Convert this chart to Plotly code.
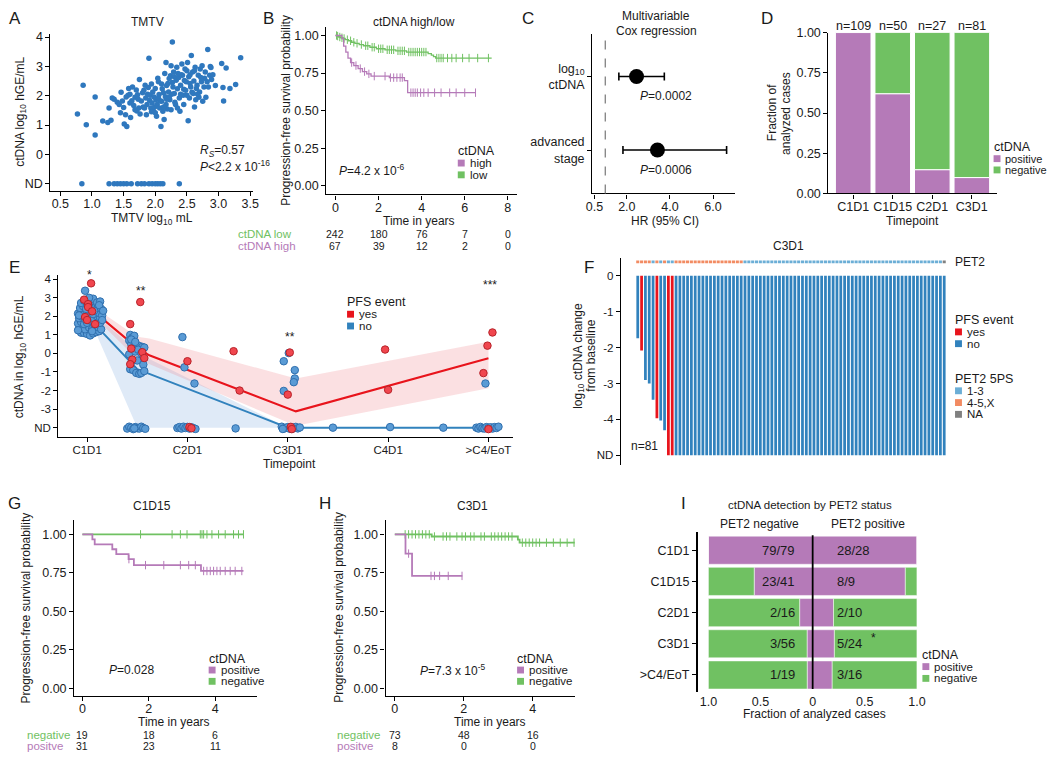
"""Multi-panel ctDNA figure rebuilt with Plotly."""

import plotly.graph_objects as go

W, H = 1050, 759
FONT = "Liberation Sans, Arial, Helvetica, sans-serif"
INK = "#1a1a1a"
PURPLE = "#B57AB8"
GREEN = "#70C162"
PFS_RED = "#E8141C"
PFS_BLUE = "#3182BD"
PT_BLUE = "#2F78BE"
PET_LOW = "#6BAED6"
PET_HIGH = "#F28B62"
PET_NA = "#808080"

# ---------------- A: TMTV vs baseline ctDNA ----------------
tmtv_pts = [
    (0.77, 1.38), (0.86, 2.36), (0.91, 1.01), (1.05, 0.66), (1.05, 1.96), (1.17, 1.14), (1.25, 1.09),
    (1.27, 1.58), (1.30, 1.16), (1.32, 1.92), (1.35, 1.88), (1.40, 1.78), (1.43, 1.70), (1.45, 1.42),
    (1.46, 2.12), (1.48, 1.82), (1.50, 1.60), (1.51, 1.04), (1.53, 1.35), (1.54, 1.96), (1.55, 0.95),
    (1.57, 2.02), (1.58, 2.25), (1.60, 1.75), (1.61, 1.26), (1.63, 1.83), (1.64, 2.30), (1.66, 1.67),
    (1.68, 1.95), (1.70, 2.20), (1.71, 1.48), (1.72, 2.03), (1.74, 1.58), (1.75, 2.55), (1.76, 1.38),
    (1.78, 1.82), (1.80, 2.10), (1.81, 1.62), (1.82, 2.19), (1.84, 2.36), (1.85, 1.92), (1.86, 1.35),
    (1.87, 1.70), (1.88, 2.05), (1.90, 3.28), (1.91, 1.85), (1.92, 2.02), (1.93, 1.58), (1.94, 1.45),
    (1.95, 1.75), (1.96, 2.13), (1.97, 1.48), (1.98, 1.96), (1.99, 1.62), (2.00, 2.25), (2.01, 1.86),
    (2.02, 1.30), (2.03, 1.70), (2.04, 2.60), (2.05, 2.48), (2.06, 2.04), (2.07, 1.58), (2.08, 1.82),
    (2.09, 0.95), (2.10, 1.81), (2.11, 2.24), (2.12, 1.47), (2.13, 2.10), (2.14, 1.19), (2.15, 2.76),
    (2.16, 1.97), (2.17, 3.13), (2.17, 1.70), (2.18, 2.35), (2.19, 1.55), (2.20, 2.42), (2.21, 2.13),
    (2.22, 2.59), (2.23, 1.86), (2.24, 2.68), (2.25, 3.02), (2.25, 1.52), (2.26, 2.05), (2.27, 3.83),
    (2.28, 2.30), (2.29, 2.81), (2.30, 2.08), (2.31, 1.78), (2.32, 1.70), (2.33, 2.53), (2.34, 2.97),
    (2.35, 2.24), (2.36, 2.76), (2.37, 2.62), (2.38, 1.92), (2.39, 1.47), (2.40, 2.36), (2.41, 2.72),
    (2.42, 3.08), (2.43, 2.70), (2.44, 2.02), (2.45, 1.70), (2.46, 2.52), (2.47, 2.91), (2.48, 2.19),
    (2.49, 2.48), (2.50, 2.85), (2.51, 3.13), (2.52, 1.15), (2.53, 2.65), (2.54, 1.92), (2.55, 2.42),
    (2.56, 2.30), (2.57, 3.37), (2.58, 2.12), (2.59, 2.81), (2.60, 2.08), (2.61, 2.50), (2.62, 1.62),
    (2.63, 2.97), (2.64, 1.86), (2.65, 2.25), (2.66, 2.36), (2.68, 2.70), (2.69, 1.95), (2.70, 2.13),
    (2.71, 2.91), (2.73, 2.48), (2.74, 3.02), (2.75, 1.81), (2.77, 2.30), (2.78, 2.60), (2.79, 2.81),
    (2.80, 1.95), (2.82, 2.48), (2.83, 3.58), (2.84, 2.30), (2.86, 2.70), (2.87, 3.00), (2.88, 2.96),
    (2.89, 2.55), (2.91, 2.72), (2.95, 2.35), (3.05, 3.10), (3.07, 2.28), (3.08, 1.82), (3.12, 2.95),
    (3.18, 2.25), (3.27, 2.38), (3.35, 3.30), (1.60, 2.05), (1.68, 1.52), (1.73, 1.88), (1.83, 1.58),
    (1.89, 2.28), (1.94, 2.40), (2.00, 1.42), (2.05, 1.92), (2.10, 2.40), (2.13, 1.62), (2.18, 1.88),
    (2.22, 1.95), (2.27, 2.45), (2.30, 2.65), (2.35, 1.58), (2.40, 2.05), (2.45, 2.22), (2.50, 2.02),
    (2.55, 2.72), (2.62, 2.85), (2.67, 2.05), (2.72, 2.62),
]
tmtv_nd_x = [0.84, 1.27, 1.35, 1.40, 1.45, 1.50, 1.55, 1.62, 1.72, 1.78, 1.83, 1.90, 1.95, 2.00,
             2.04, 2.08, 2.12, 2.38]
ND_A = -1

# ---------------- B: KM ctDNA high / low ----------------
low_t = [0, 0.08, 0.15, 0.25, 0.35, 0.45, 0.6, 0.75, 0.9, 1.1, 1.3, 1.6, 1.9, 2.3, 2.8, 3.3, 4.3, 4.45, 4.55, 4.65]
low_s = [1.0, 0.996, 0.99, 0.985, 0.98, 0.972, 0.965, 0.955, 0.948, 0.94, 0.932, 0.922, 0.912, 0.905,
         0.898, 0.89, 0.88, 0.87, 0.86, 0.85]
low_end = 7.25
low_cens = [0.05, 0.1, 0.2, 0.3, 0.4, 0.55, 0.7, 0.85, 1.0, 1.2, 1.4, 1.5, 1.7, 1.8, 2.0, 2.1, 2.2, 2.4, 2.5,
            2.6, 2.7, 2.9, 3.0, 3.1, 3.2, 3.4, 3.5, 3.6, 3.7, 3.8, 3.9, 4.0, 4.1, 4.2, 4.7, 4.8, 4.9, 5.0,
            5.2, 5.4, 5.6, 5.9, 6.2, 6.6, 7.1]
high_t = [0, 0.3, 0.38, 0.48, 0.58, 0.7, 0.85, 1.05, 1.25, 1.45, 1.65, 2.5, 3.2, 3.35]
high_s = [1.0, 0.98, 0.93, 0.89, 0.85, 0.82, 0.80, 0.78, 0.76, 0.745, 0.73, 0.72, 0.70, 0.62]
high_end = 6.5
high_cens = [0.75, 0.95, 1.15, 1.35, 1.55, 1.8, 2.3, 2.55, 2.7, 2.85, 3.0, 3.1, 3.5, 3.6, 3.7, 3.8, 3.95,
             4.1, 4.3, 4.6, 4.9, 5.3, 5.6, 6.0, 6.5]
risk_times_b = [0, 2, 4, 6, 8]
risk_low_b = [242, 180, 76, 7, 0]
risk_high_b = [67, 39, 12, 2, 0]

# ---------------- C: Cox regression ----------------
cox_vars = ["log<sub>10</sub><br>ctDNA", "advanced<br>stage"]
cox_pos = [2, 1]
cox_hr = [2.45, 3.42]
cox_lo = [1.63, 1.82]
cox_hi = [3.74, 6.63]
cox_p = ["<i>P</i>=0.0002", "<i>P</i>=0.0006"]

# ---------------- D: detection per timepoint ----------------
d_timepoints = ["C1D1", "C1D15", "C2D1", "C3D1"]
d_n = [109, 50, 27, 81]
d_positive = [1.0, 0.62, 0.148, 0.099]

# ---------------- E: ctDNA kinetics ----------------
e_blue = [
    (-0.06, 1.12), (-0.03, 1.10), (0.00, 1.05), (0.03, 0.97), (0.06, 1.08), (0.09, 1.15), (0.12, 1.20),
    (-0.08, 1.35), (-0.05, 1.45), (-0.02, 1.30), (0.02, 1.40), (0.05, 1.32), (0.08, 1.50), (0.11, 1.42),
    (0.14, 1.30), (-0.09, 1.62), (-0.06, 1.70), (-0.03, 1.58), (0.00, 1.65), (0.04, 1.75), (0.07, 1.60),
    (0.10, 1.72), (0.13, 1.65), (-0.08, 1.90), (-0.05, 1.98), (-0.02, 1.85), (0.01, 1.95), (0.04, 2.05),
    (0.07, 1.88), (0.10, 2.00), (0.13, 1.92), (-0.09, 2.15), (-0.06, 2.25), (-0.03, 2.10), (0.00, 2.20),
    (0.03, 2.30), (0.06, 2.12), (0.09, 2.28), (0.12, 2.18), (-0.07, 2.45), (-0.04, 2.55), (-0.01, 2.40),
    (0.02, 2.50), (0.05, 2.62), (0.08, 2.45), (0.11, 2.55), (0.14, 2.40), (-0.06, 2.72), (-0.03, 2.85),
    (0.00, 2.70), (0.03, 2.80), (0.06, 2.95), (0.10, 2.75), (0.13, 2.80), (-0.02, 3.38), (0.02, 3.00),
    (-0.08, 2.05), (0.12, 2.60), (0.15, 2.05), (0.16, 2.30), (0.15, 1.80), (-0.09, 1.25), (0.01, 2.62),
    (0.07, 2.30), (0.05, 1.20),
    (0.43, 1.00), (0.45, 0.85), (0.42, 0.70), (0.47, 0.95), (0.44, 0.50), (0.46, 0.30), (0.49, 0.45),
    (0.52, 0.40), (0.55, 0.35), (0.42, -0.05), (0.48, 0.10), (0.51, 0.20), (0.54, 0.00), (0.57, 0.32),
    (0.45, -0.40), (0.50, -0.38), (0.56, -0.60), (0.43, -0.85), (0.46, -0.90), (0.49, -1.05),
    (0.52, -1.10), (0.54, -1.05), (0.57, -0.95), (0.44, 0.75), (0.48, 0.62),
    (0.95, 0.88), (0.97, -0.75), (1.07, -1.62), (1.96, -0.42), (1.96, -2.02), (2.07, -0.90),
    (2.07, -1.35), (2.06, -1.55), (2.01, 0.02), (3.97, -1.62),
    (0.40, -4.05), (0.42, -3.95), (0.44, -4.00), (0.46, -4.08), (0.48, -3.97), (0.50, -4.03),
    (0.52, -4.05), (0.54, -3.95), (0.56, -4.02), (0.58, -4.06), (0.47, -4.04),
    (0.90, -4.02), (0.92, -3.97), (0.94, -4.05), (0.96, -3.95), (0.98, -4.02), (1.00, -3.96),
    (1.02, -4.05), (1.04, -3.98), (1.06, -4.03), (1.08, -4.07), (1.48, -4.04),
    (1.94, -3.95), (1.96, -4.05), (1.98, -4.02), (2.00, -3.97), (2.02, -4.06), (2.04, -3.98),
    (2.06, -4.02), (2.08, -3.96), (2.10, -4.04), (2.12, -3.99), (1.95, -4.07), (2.05, -4.05),
    (2.45, -4.00), (3.02, -3.97), (3.55, -4.00),
    (3.88, -4.00), (3.90, -4.05), (3.92, -3.96), (3.94, -4.03), (3.96, -4.05), (3.98, -3.97),
    (4.00, -4.02), (4.02, -3.98), (4.04, -4.05), (4.06, -3.97), (4.08, -4.02), (4.10, -3.95),
]
e_red = [
    (0.04, 3.78), (-0.03, 2.90), (0.01, 2.66), (0.01, 2.50), (0.05, 2.27), (-0.02, 1.96), (0.00, 1.80),
    (0.08, 1.58), (0.43, 1.58), (0.53, 2.77), (0.44, 0.26), (0.45, -0.33), (0.43, -0.58), (0.55, 0.07),
    (0.57, -0.25), (1.00, -0.42), (1.46, 0.12), (1.52, -2.00), (2.00, -2.22), (2.02, 0.05), (2.97, 0.21),
    (3.00, -1.96), (3.99, 0.42), (4.04, 1.13), (3.95, -1.06), (1.02, -3.97), (1.04, -4.03),
    (2.03, -3.96), (2.04, -4.08), (4.00, -4.08),
]
e_red_fit_x = [0.08, 0.5, 0.62, 2.08, 4.0]
e_red_fit = [2.2, 0.3, -0.1, -3.12, -0.26]
e_red_hi = [2.45, 0.9, 0.8, -1.35, 0.63]
e_red_lo = [1.92, -0.3, -0.6, -3.9, -1.87]
e_blue_fit_x = [0.08, 0.5, 0.62, 2.0, 4.0]
e_blue_fit = [1.55, -0.85, -1.1, -4.0, -4.0]
e_blue_band_x = [0.08, 0.5, 0.62, 2.0]
e_blue_hi = [2.1, 0.1, -0.3, -4.0]
e_blue_lo = [1.2, -4.0, -4.0, -4.0]
e_ticks = ["C1D1", "C2D1", "C3D1", "C4D1", ">C4/EoT"]
e_stars = [(0.02, 273, "*"), (0.54, 289, "**"), (2.02, 336, "**"), (4.02, 283, "***")]

# ---------------- F: waterfall at C3D1 ----------------
ND_F = -5
f_change = [-1.74, -2.08, -2.90, -3.00, -3.45, -3.97, -4.03, -4.30] + [ND_F] * 73
f_event_idx = [1, 5, 8, 9]
f_pet2 = (["4-5,X"] * 4 + ["1-3"] + ["4-5,X"] + ["1-3"] + ["4-5,X"] + ["1-3"] * 2
          + ["4-5,X"] * 18 + ["1-3"] * 52 + ["NA"])

# ---------------- G / H: KM by landmark ----------------
g_neg_t, g_neg_s, g_neg_end = [0], [1.0], 4.85
g_neg_cens = [1.75, 2.7, 2.95, 3.15, 3.55, 3.6, 3.65, 3.75, 3.9, 4.1, 4.3, 4.55, 4.7, 4.85]
g_pos_t = [0, 0.3, 0.37, 0.9, 1.02, 1.39, 1.55, 3.57]
g_pos_s = [1.0, 0.967, 0.935, 0.903, 0.871, 0.839, 0.80, 0.762]
g_pos_end = 4.85
g_pos_cens = [1.4, 1.9, 2.45, 2.95, 3.2, 3.4, 3.65, 3.75, 3.85, 3.95, 4.05, 4.15, 4.3, 4.45, 4.6, 4.8]
g_risk_neg = [19, 18, 6]
g_risk_pos = [31, 23, 11]

h_neg_t = [0, 1.07, 3.57, 3.62]
h_neg_s = [1.0, 0.986, 0.966, 0.946]
h_neg_end = 5.22
h_neg_cens = [0.3, 0.4, 0.5, 0.6, 0.7, 0.8, 0.9, 1.0, 1.15, 1.4, 1.5, 1.6, 1.8, 1.95, 2.05, 2.2, 2.3, 2.5,
              2.6, 2.8, 2.9, 3.0, 3.1, 3.2, 3.3, 3.4, 3.7, 3.8, 3.9, 4.0, 4.1, 4.2, 4.4, 4.6, 4.8, 5.0, 5.2]
h_pos_t = [0, 0.31, 0.5]
h_pos_s = [1.0, 0.875, 0.73]
h_pos_end = 1.96
h_pos_cens = [0.4, 1.05, 1.15, 1.3, 1.55, 1.95]
h_risk_neg = [73, 48, 16]
h_risk_pos = [8, 0, 0]
risk_times_gh = [0, 2, 4]

# ---------------- I: detection by PET2 ----------------
i_timepoints = ["C1D1", "C1D15", "C2D1", "C3D1", ">C4/EoT"]
i_neg_pos = [79, 23, 2, 3, 1]
i_neg_n = [79, 41, 16, 56, 19]
i_pos_pos = [28, 8, 2, 5, 3]
i_pos_n = [28, 9, 10, 24, 16]


def fx(p):
    return p / W


def fy(p):
    return 1 - p / H


def xdom(a, b):
    return [a / W, b / W]


def ydom(top, bottom):
    return [1 - bottom / H, 1 - top / H]


def axis(domain, rng, anchor, **kw):
    d = dict(domain=domain, range=rng, anchor=anchor, showline=True, linecolor="black", linewidth=1.3,
             ticks="outside", ticklen=4, tickwidth=1, tickcolor="black", showgrid=False, zeroline=False,
             tickfont=dict(size=12.5, color=INK, family=FONT), fixedrange=True)
    d.update(kw)
    return d


def xaxis(domain, rng, anchor, **kw):
    kw.setdefault("ticklabelstandoff", -3)
    return axis(domain, rng, anchor, **kw)


def km_at(times, surv, t):
    s = surv[0]
    for ti, si in zip(times, surv):
        if ti <= t:
            s = si
    return s


fig = go.Figure()


def note(x, y, text, size=12, color=INK, xanchor="center", angle=0):
    fig.add_annotation(x=fx(x), y=fy(y), xref="paper", yref="paper", text=text, showarrow=False,
                       xanchor=xanchor, yanchor="middle", textangle=angle,
                       font=dict(size=size, color=color, family=FONT))


def data_note(x, xref, y, yref, text, size=12, xanchor="center"):
    fig.add_annotation(x=x, xref=xref, y=y, yref=yref, text=text, showarrow=False,
                       xanchor=xanchor, yanchor="middle", font=dict(size=size, color=INK, family=FONT))


def legend_block(x, y, title, items, dy=12, size=11.5):
    note(x, y, title, size=12.5, xanchor="left")
    for i, (lab, col) in enumerate(items):
        yy = y + dy * (i + 1)
        fig.add_shape(type="rect", xref="paper", yref="paper", x0=fx(x + 2), x1=fx(x + 9),
                      y0=fy(yy + 3.5), y1=fy(yy - 3.5), fillcolor=col, line_width=0)
        note(x + 12, yy, lab, size=size, xanchor="left")


def km(times, surv, end, cens, color, xa, ya, width):
    fig.add_trace(go.Scatter(x=list(times) + [end], y=list(surv) + [surv[-1]], mode="lines",
                             line=dict(color=color, width=width, shape="hv"), xaxis=xa, yaxis=ya))
    fig.add_trace(go.Scatter(x=cens, y=[km_at(times, surv, c) for c in cens], mode="markers",
                             marker=dict(symbol="line-ns-open", size=6, color=color,
                                         line=dict(color=color, width=1)),
                             xaxis=xa, yaxis=ya))


# ---- A ----
fig.add_trace(go.Scatter(x=[p[0] for p in tmtv_pts] + tmtv_nd_x,
                         y=[p[1] for p in tmtv_pts] + [ND_A] * len(tmtv_nd_x),
                         mode="markers", marker=dict(color=PT_BLUE, size=5.5), xaxis="x", yaxis="y"))

# ---- B ----
km(low_t, low_s, low_end, low_cens, GREEN, "x2", "y2", 1.3)
km(high_t, high_s, high_end, high_cens, PURPLE, "x2", "y2", 1.3)

# ---- C ----
fig.add_shape(type="line", xref="x3", yref="y3 domain", x0=1, x1=1, y0=0, y1=1,
              line=dict(color="#808080", width=1.3, dash="dash"))
fig.add_trace(go.Scatter(
    x=cox_hr, y=cox_pos, mode="markers", marker=dict(color="black", size=15),
    error_x=dict(type="data", symmetric=False, array=[h - m for h, m in zip(cox_hi, cox_hr)],
                 arrayminus=[m - l for m, l in zip(cox_hr, cox_lo)], color="black", thickness=1.6, width=4),
    xaxis="x3", yaxis="y3"))

# ---- D ----
fig.add_trace(go.Bar(x=list(range(4)), y=d_positive, base=0, width=0.9, marker=dict(color=PURPLE,
                     line=dict(color="white", width=1)), xaxis="x4", yaxis="y4"))
fig.add_trace(go.Bar(x=list(range(4)), y=[1 - p for p in d_positive], base=d_positive, width=0.9,
                     marker=dict(color=GREEN, line=dict(color="white", width=1)), xaxis="x4", yaxis="y4"))
for i, n in enumerate(d_n):
    data_note(i, "x4", fy(19), "paper", f"n={n}", size=12.5)

# ---- E ----
fig.add_trace(go.Scatter(x=e_blue_band_x + e_blue_band_x[::-1], y=e_blue_hi + e_blue_lo[::-1],
                         fill="toself", fillcolor="rgba(140,180,225,0.28)", line=dict(width=0),
                         mode="lines", xaxis="x5", yaxis="y5"))
fig.add_trace(go.Scatter(x=e_red_fit_x + e_red_fit_x[::-1], y=e_red_hi + e_red_lo[::-1],
                         fill="toself", fillcolor="rgba(240,130,140,0.25)", line=dict(width=0),
                         mode="lines", xaxis="x5", yaxis="y5"))
fig.add_trace(go.Scatter(x=e_blue_fit_x, y=e_blue_fit, mode="lines", line=dict(color=PFS_BLUE, width=2),
                         xaxis="x5", yaxis="y5"))
fig.add_trace(go.Scatter(x=e_red_fit_x, y=e_red_fit, mode="lines", line=dict(color=PFS_RED, width=2),
                         xaxis="x5", yaxis="y5"))
fig.add_trace(go.Scatter(x=[p[0] for p in e_blue], y=[p[1] for p in e_blue], mode="markers",
                         marker=dict(color="#5A9BD5", size=7.5, line=dict(color="#2F6FAE", width=1)),
                         xaxis="x5", yaxis="y5"))
fig.add_trace(go.Scatter(x=[p[0] for p in e_red], y=[p[1] for p in e_red], mode="markers",
                         marker=dict(color="#F0464E", size=7.5, line=dict(color="#B8232A", width=1)),
                         xaxis="x5", yaxis="y5"))
for xs, ys, s in e_stars:
    data_note(xs, "x5", fy(ys), "paper", s, size=12)

# ---- F ----
f_idx = list(range(len(f_change)))
f_cols = [PFS_RED if i in f_event_idx else PFS_BLUE for i in f_idx]
pet_cols = {"1-3": PET_LOW, "4-5,X": PET_HIGH, "NA": PET_NA}
fig.add_trace(go.Bar(x=f_idx, y=f_change, base=0, width=0.72, marker=dict(color=f_cols, line_width=0),
                     xaxis="x6", yaxis="y6"))
fig.add_trace(go.Bar(x=f_idx, y=[0.08] * len(f_idx), base=0.35, width=0.8,
                     marker=dict(color=[pet_cols[p] for p in f_pet2], line_width=0), xaxis="x6", yaxis="y6"))

# ---- G / H ----
km(g_neg_t, g_neg_s, g_neg_end, g_neg_cens, GREEN, "x7", "y7", 1.8)
km(g_pos_t, g_pos_s, g_pos_end, g_pos_cens, PURPLE, "x7", "y7", 1.8)
km(h_neg_t, h_neg_s, h_neg_end, h_neg_cens, GREEN, "x8", "y8", 1.8)
km(h_pos_t, h_pos_s, h_pos_end, h_pos_cens, PURPLE, "x8", "y8", 1.8)

# ---- I ----
i_rows = [4, 3, 2, 1, 0]
fneg = [p / n for p, n in zip(i_neg_pos, i_neg_n)]
fpos = [p / n for p, n in zip(i_pos_pos, i_pos_n)]
bar_kw = dict(orientation="h", width=0.9, xaxis="x9", yaxis="y9")
fig.add_trace(go.Bar(y=i_rows, x=[-f for f in fneg], base=0, marker=dict(color=PURPLE,
                     line=dict(color="white", width=0.5)), **bar_kw))
fig.add_trace(go.Bar(y=i_rows, x=[-(1 - f) for f in fneg], base=[-f for f in fneg],
                     marker=dict(color=GREEN, line=dict(color="white", width=0.5)), **bar_kw))
fig.add_trace(go.Bar(y=i_rows, x=fpos, base=0, marker=dict(color=PURPLE,
                     line=dict(color="white", width=0.5)), **bar_kw))
fig.add_trace(go.Bar(y=i_rows, x=[1 - f for f in fpos], base=fpos,
                     marker=dict(color=GREEN, line=dict(color="white", width=0.5)), **bar_kw))
fig.add_shape(type="line", xref="x9", yref="y9 domain", x0=0, x1=0, y0=0.02, y1=0.98,
              line=dict(color="black", width=1.8))
for r, a, b, c, d in zip(i_rows, i_neg_pos, i_neg_n, i_pos_pos, i_pos_n):
    data_note(-0.15, "x9", r, "y9", f"{a}/{b}", size=13, xanchor="right")
    data_note(0.21, "x9", r, "y9", f"{c}/{d}", size=13, xanchor="left")
data_note(0.58, "x9", 1.2, "y9", "*", size=12)

# ---------------- axes ----------------
small_ticks = dict(size=11.5, color=INK, family=FONT)
prob_ticks = dict(tickvals=[0, 0.25, 0.5, 0.75, 1], ticktext=["0.00", "0.25", "0.50", "0.75", "1.00"])
fig.update_layout(
    xaxis=xaxis(xdom(45, 250), [0.344, 3.547], "y", tickvals=[0.5, 1, 1.5, 2, 2.5, 3, 3.5],
                ticktext=["0.5", "1.0", "1.5", "2.0", "2.5", "3.0", "3.5"]),
    yaxis=axis(ydom(28, 187), [-1.234, 4.09], "x", tickvals=[-1, 0, 1, 2, 3, 4],
               ticktext=["ND", "0", "1", "2", "3", "4"]),
    xaxis2=xaxis(xdom(324, 517), [-0.427, 8.43], "y2", tickvals=[0, 2, 4, 6, 8]),
    yaxis2=axis(ydom(20, 191), [-0.057, 1.059], "x2", **prob_ticks),
    xaxis3=xaxis(xdom(593, 737), [0.394, 7.0], "y3", tickvals=[0.5, 2, 4, 6],
                 ticktext=["0.5", "2.0", "4.0", "6.0"]),
    yaxis3=axis(ydom(28, 190), [0.41, 2.57], "x3", tickvals=cox_pos, ticktext=cox_vars),
    xaxis4=xaxis(xdom(832, 1002), [-0.625, 3.625], "y4", tickvals=[0, 1, 2, 3], ticktext=d_timepoints),
    yaxis4=axis(ydom(26, 190), [0, 1], "x4", **prob_ticks),
    xaxis5=xaxis(xdom(53, 513), [-0.286, 4.246], "y5", tickvals=[0, 1, 2, 3, 4], ticktext=e_ticks,
                 tickfont=small_ticks, ticklabelstandoff=-2),
    yaxis5=axis(ydom(273, 438), [-4.5, 4.23], "x5", tickvals=[-4, -3, -2, -1, 0, 1, 2, 3, 4],
                ticktext=["ND", "-3", "-2", "-1", "0", "1", "2", "3", "4"], tickfont=small_ticks),
    xaxis6=axis(xdom(622, 951), [-4.4, 80.5], "y6", showline=False, ticks="", showticklabels=False),
    yaxis6=axis(ydom(256, 467), [-5.28, 0.49], "x6", tickvals=[0, -1, -2, -3, -4, -5],
                ticktext=["0", "-1", "-2", "-3", "-4", "ND"], tickfont=small_ticks),
    xaxis7=xaxis(xdom(69, 254), [-0.247, 5.26], "y7", tickvals=[0, 2, 4]),
    yaxis7=axis(ydom(523, 702), [-0.051, 1.091], "x7", **prob_ticks),
    xaxis8=xaxis(xdom(384, 576), [-0.267, 5.24], "y8", tickvals=[0, 2, 4]),
    yaxis8=axis(ydom(523, 702), [-0.051, 1.091], "x8", **prob_ticks),
    xaxis9=xaxis(xdom(700, 932), [-1.1, 1.1], "y9", showline=False, ticks="", ticklabelstandoff=0,
                  tickvals=[-1, -0.5, 0, 0.5, 1], ticktext=["1.0", "0.5", "0", "0.5", "1.0"]),
    yaxis9=axis(ydom(535, 698), [-0.55, 4.58], "x9", tickvals=i_rows, ticktext=i_timepoints, linewidth=2.2),
)

# ---------------- text ----------------
for letter, x, y in [("A", 9, 12), ("B", 266, 12), ("C", 528, 12), ("D", 770, 12), ("E", 9, 265),
                     ("F", 590, 265), ("G", 9, 506), ("H", 323, 506), ("I", 685, 506)]:
    note(x, y, letter, size=17)

# A
note(143, 15, "TMTV")
note(15, 107, "ctDNA log<sub>10</sub> hGE/mL", angle=-90)
note(148, 216, "TMTV log<sub>10</sub> mL")
note(194, 147, "<i>R</i><sub><i>S</i></sub>=0.57", xanchor="left")
note(194, 162, "<i>P</i><2.2 x 10<sup>-16</sup>", xanchor="left")
# B
note(413, 15, "ctDNA high/low")
note(283, 105, "Progression-free survival probability", angle=-90)
note(418, 218, "Time in years")
note(370, 166, "<i>P</i>=4.2 x 10<sup>-6</sup>")
legend_block(455, 147, "ctDNA", [("high", PURPLE), ("low", GREEN)])
note(233, 231, "ctDNA low", size=11.5, color=GREEN, xanchor="left")
note(233, 243, "ctDNA high", size=11.5, color=PURPLE, xanchor="left")
for t, a, b in zip(risk_times_b, risk_low_b, risk_high_b):
    data_note(t, "x2", fy(231), "paper", str(a), size=10.5)
    data_note(t, "x2", fy(243), "paper", str(b), size=10.5)
# C
note(658, 9, "Multivariable")
note(658, 24, "Cox regression")
note(667, 218, "HR (95% CI)")
for pos, ptxt in zip(cox_pos, cox_p):
    data_note(3.8, "x3", pos - 0.27, "y3", ptxt, size=12)
# D
note(775, 108, "Fraction of", angle=-90)
note(789, 108, "analyzed cases", angle=-90)
note(917, 218, "Timepoint")
legend_block(997, 143, "ctDNA", [("positive", PURPLE), ("negative", GREEN)], dy=11.5, size=11)
# E
note(15, 356, "ctDNA in log<sub>10</sub> hGE/mL", angle=-90)
note(287, 466, "Timepoint")
legend_block(343, 301, "PFS event", [("yes", PFS_RED), ("no", PFS_BLUE)])
# F
note(792, 244, "C3D1")
note(958, 260, "PET2", xanchor="left")
note(580, 355, "log<sub>10</sub> ctDNA change", angle=-90)
note(592, 355, "from baseline", angle=-90)
note(646, 447, "n=81")
legend_block(958, 319, "PFS event", [("yes", PFS_RED), ("no", PFS_BLUE)])
legend_block(958, 379, "PET2 5PS", [("1-3", PET_LOW), ("4-5,X", PET_HIGH), ("NA", PET_NA)])
# G
note(148, 508, "C1D15")
note(20, 612, "Progression-free survival probability", angle=-90)
note(170, 728, "Time in years")
note(127, 675, "<i>P</i>=0.028")
legend_block(203, 664, "ctDNA", [("positive", PURPLE), ("negative", GREEN)], dy=11.5)
note(19, 742, "negative", size=11.5, color=GREEN, xanchor="left")
note(19, 753, "positve", size=11.5, color=PURPLE, xanchor="left")
# H
note(472, 508, "C3D1")
note(337, 612, "Progression-free survival probability", angle=-90)
note(490, 728, "Time in years")
note(452, 675, "<i>P</i>=7.3 x 10<sup>-5</sup>")
legend_block(515, 664, "ctDNA", [("positive", PURPLE), ("negative", GREEN)], dy=11.5)
note(333, 742, "negative", size=11.5, color=GREEN, xanchor="left")
note(333, 753, "positve", size=11.5, color=PURPLE, xanchor="left")
for xa, neg, pos in [("x7", g_risk_neg, g_risk_pos), ("x8", h_risk_neg, h_risk_pos)]:
    for t, a, b in zip(risk_times_gh, neg, pos):
        data_note(t, xa, fy(742), "paper", str(a), size=10.5)
        data_note(t, xa, fy(753), "paper", str(b), size=10.5)
# I
note(813, 507, "ctDNA detection by PET2 status", size=11.5)
note(762, 527, "PET2 negative")
note(872, 527, "PET2 positive")
note(818, 720, "Fraction of analyzed cases")
legend_block(925, 660, "ctDNA", [("positive", PURPLE), ("negative", GREEN)], dy=12)

fig.update_layout(
    width=W, height=H, margin=dict(l=0, r=0, t=0, b=0),
    plot_bgcolor="white", paper_bgcolor="white", showlegend=False, barmode="overlay",
    font=dict(family=FONT, color=INK),
)

# drop the browser's default body margin so the page is pinned at the top-left
fig.write_html("out.html", config={"displayModeBar": False},
               post_script="document.body.style.margin = '0px';")
